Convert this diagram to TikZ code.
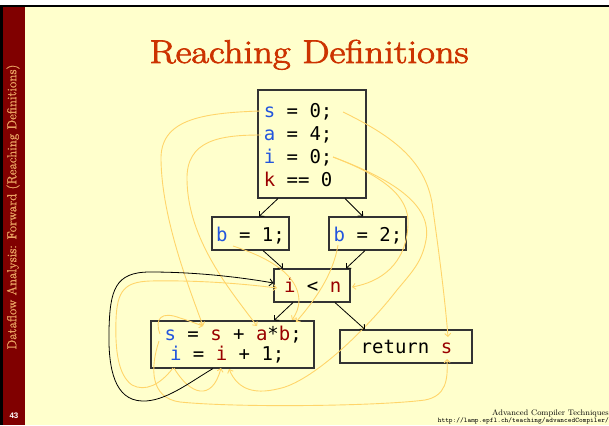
\documentclass[tikz,border=0pt]{standalone}
\usepackage{fontspec}
\usepackage{graphicx}
\usetikzlibrary{arrows.meta}
\newfontfamily\codefont{DejaVu Sans Mono}
\newfontfamily\numfont{Liberation Sans}
\newfontfamily\titlefont[FakeBold=2.2]{Latin Modern Roman}
\newfontfamily\sidefont[FakeBold=1.2]{Latin Modern Roman}
\definecolor{bgyellow}{HTML}{FFFFCC}
\definecolor{sidered}{HTML}{800000}
\definecolor{titlered}{HTML}{CC3300}
\definecolor{sidetext}{HTML}{E8A060}
\definecolor{defblue}{HTML}{2255DD}
\definecolor{usered}{HTML}{990000}
\definecolor{chain}{HTML}{FFD56A}
\definecolor{boxline}{HTML}{333333}
\newcommand\dvar[1]{\textcolor{defblue}{#1}}
\newcommand\uvar[1]{\textcolor{usered}{#1}}
\tikzset{
  cbox/.style={draw=boxline, line width=1.1pt, fill=bgyellow, inner sep=0pt, anchor=center},
  code/.style={anchor=base west, inner sep=0pt, font=\codefont\fontsize{19}{19}\selectfont},
  flow/.style={draw=black, line width=0.8pt, -{Straight Barb[length=3.5pt,width=7pt]}},
  chainarrow/.style={draw=chain, line width=0.9pt, -{Straight Barb[length=3pt,width=6pt]}},
}
\begin{document}
\begin{tikzpicture}[x=1pt,y=-1pt]
\useasboundingbox (0,0) rectangle (609,425);
% background
\fill[white] (0,0) rectangle (609,425);
\fill[bgyellow] (0,5) rectangle (609,425);
\fill[black] (0,5) rectangle (609,7.3);
\fill[black] (0,5) rectangle (3,425);
\fill[sidered] (3,7.3) rectangle (25,425);
% side and footer texts
\node[rotate=90, text=sidetext, inner sep=0pt, font=\sidefont\fontsize{13}{13}\selectfont] (side) at (13,207) {Dataflow Analysis: Forward (Reaching Definitions)};
\node[text=white, inner sep=0pt, font=\numfont\bfseries\fontsize{8}{8}\selectfont] (pagenum) at (14,416) {43};
\node[anchor=base east, inner sep=0pt, font=\fontsize{8}{8}\selectfont] (foot1) at (609,415) {Advanced Compiler Techniques};
\node[anchor=base east, inner sep=0pt, font=\ttfamily\fontsize{7}{7}\selectfont] (foot2) at (609,422) {http://lamp.epfl.ch/teaching/advancedCompiler/};
% title
\node[anchor=base, inner sep=0pt, text=titlered, font=\titlefont\fontsize{33}{33}\selectfont] (title) at (309,63) {\scalebox{1.17}[1]{Reaching Definitions}};
% boxes
\node[cbox, minimum width=108pt, minimum height=108pt] (top) at (312,144) {};
\node[cbox, minimum width=77pt, minimum height=33pt] (b1) at (250.5,233.5) {};
\node[cbox, minimum width=77pt, minimum height=33pt] (b2) at (367.5,233.5) {};
\node[cbox, minimum width=76pt, minimum height=33pt] (cond) at (312,285.5) {};
\node[cbox, minimum width=163pt, minimum height=47pt] (body) at (232.5,344.5) {};
\node[cbox, minimum width=132pt, minimum height=33pt] (ret) at (406,346.5) {};
% code texts
\node[code] (l1) at (263.6,117) {\dvar{s} = 0;};
\node[code] (l2) at (263.6,140) {\dvar{a} = 4;};
\node[code] (l3) at (263.6,163) {\dvar{i} = 0;};
\node[code] (l4) at (263.6,186) {\uvar{k} == 0};
\node[code] (tb1) at (216,241.7) {\dvar{b} = 1;};
\node[code] (tb2) at (333.5,241.7) {\dvar{b} = 2;};
\node[code] (tcond) at (283.8,292) {\uvar{i} < \uvar{n}};
\node[code] (tbody1) at (164.3,340) {\dvar{s} = \uvar{s} + \uvar{a}*\uvar{b};};
\node[code] (tbody2) at (169.8,360) {\dvar{i} = \uvar{i} + 1;};
\node[code] (tret) at (360.5,353) {return \uvar{s}};
% def-use chains
\coordinate (sdef0) at (260,111);
\coordinate (adef0) at (261,135);
\coordinate (sdef0r) at (343,112);
\coordinate (idef0) at (333,157);
\coordinate (bdef1) at (233,246);
\coordinate (bdef2) at (338,245);
\coordinate (sdefb) at (160,334);
\coordinate (sdefc) at (159,341);
\coordinate (idefb) at (173,368);
\coordinate (idefc) at (174,368);
\coordinate (suse) at (203,326);
\coordinate (ause) at (257,326);
\coordinate (buse1) at (292,320);
\coordinate (buse2) at (296,322);
\coordinate (iuse) at (221,368);
\coordinate (iuse2) at (229,369);
\coordinate (condi) at (277,288);
\coordinate (condn) at (352,287);
\coordinate (rets) at (448,337);
\coordinate (retsb) at (447,359);
\draw[chainarrow] (sdef0) .. controls (200,113) and (160,120) .. (161,160) .. controls (162,220) and (190,290) .. (suse);
\draw[chainarrow] (adef0) .. controls (220,135) and (186,140) .. (187,180) .. controls (188,240) and (230,290) .. (ause);
\draw[chainarrow] (sdef0r) .. controls (390,135) and (428,160) .. (433,210) .. controls (440,260) and (445,300) .. (rets);
\draw[chainarrow] (idef0) .. controls (380,175) and (410,195) .. (408,225) .. controls (406,265) and (380,282) .. (condn);
\draw[chainarrow] (idef0) .. controls (400,182) and (432,208) .. (426,240) .. controls (422,262) and (412,272) .. (397,290) .. controls (370,325) and (320,375) .. (285,387) .. controls (255,396) and (238,390) .. (iuse2);
\draw[chainarrow] (bdef1) .. controls (270,258) and (298,275) .. (299,300) .. controls (299,308) and (296,314) .. (buse1);
\draw[chainarrow] (bdef2) .. controls (333,275) and (315,300) .. (buse2);
\draw[chainarrow] (idefb) .. controls (160,385) and (145,392) .. (132,385) .. controls (118,375) and (115,350) .. (116,320) .. controls (117,290) and (125,282) .. (150,281) .. controls (200,280) and (245,284) .. (condi);
\draw[chainarrow] (idefc) .. controls (190,395) and (212,402) .. (iuse);
\draw[chainarrow] (sdefb) .. controls (154,318) and (162,311) .. (180,318) .. controls (190,321) and (197,324) .. (suse);
\draw[chainarrow] (sdefc) .. controls (150,368) and (150,398) .. (180,402) .. controls (240,408) and (380,406) .. (425,400) .. controls (446,396) and (448,380) .. (retsb);
% control flow
\draw[flow] ([xshift=-34pt]top.south) -- ([xshift=8.5pt]b1.north);
\draw[flow] ([xshift=33pt]top.south) -- ([xshift=-4.5pt]b2.north);
\draw[flow] ([xshift=12.5pt]b1.south) -- ([xshift=-29pt]cond.north);
\draw[flow] ([xshift=-2.5pt]b2.south) -- ([xshift=34pt]cond.north);
\draw[flow] ([xshift=-19pt]cond.south) -- ([xshift=41.5pt]body.north);
\draw[flow] ([xshift=23pt]cond.south) -- ([xshift=-41pt]ret.north);
\draw[flow] ([xshift=-19.5pt]body.south) .. controls (190,382) and (165,402) .. (142,401) .. controls (115,400) and (108,370) .. (109,330) .. controls (110,290) and (115,272) .. (150,272) .. controls (200,272) and (245,278) .. ([yshift=2.5pt]cond.west);
\end{tikzpicture}
\end{document}
